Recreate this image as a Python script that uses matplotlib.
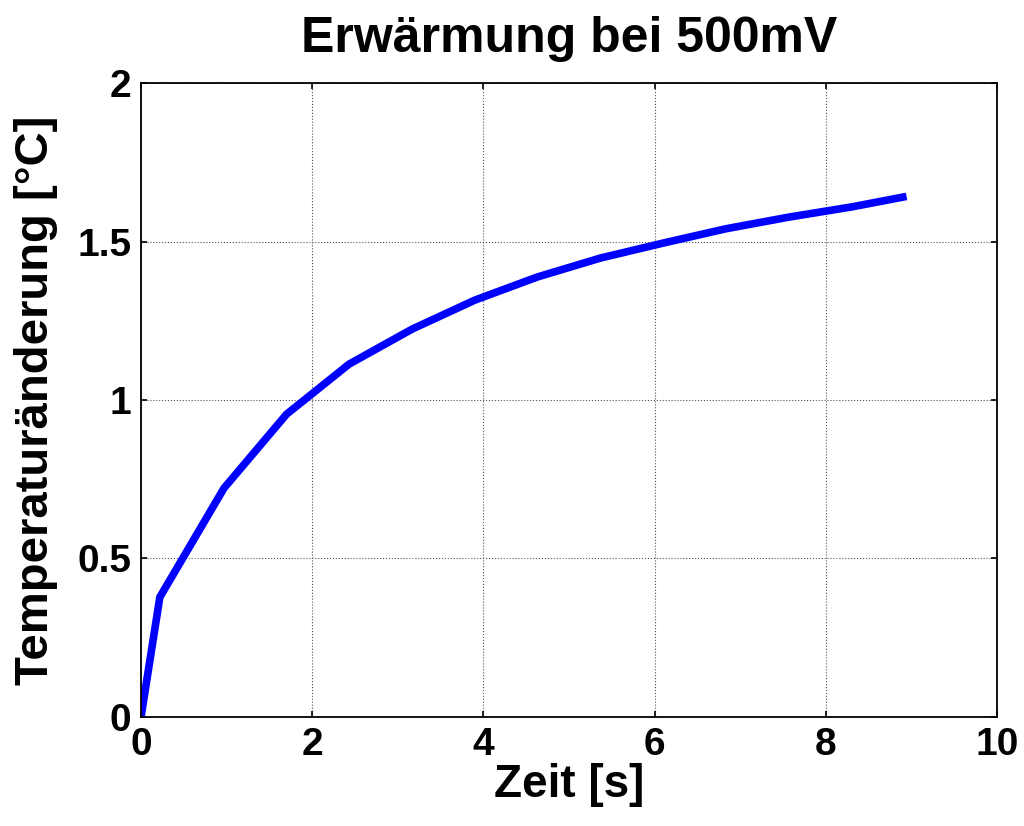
import numpy as np
import matplotlib.pyplot as plt

# Temperature rise at 500 mV
zeit = [0, 0.22, 0.97, 1.70, 2.43, 3.17, 3.90, 4.63, 5.37, 6.10, 6.83, 7.57, 8.30, 8.90]
delta_t = [0, 0.378, 0.722, 0.955, 1.113, 1.224, 1.315, 1.388, 1.448, 1.495, 1.540, 1.577, 1.609, 1.640]

xticks = [0, 2, 4, 6, 8, 10]
yticks = [0, 0.5, 1, 1.5, 2]
ytick_labels = ["0", "0.5", "1", "1.5", "2"]

plt.rcParams['font.family'] = ['Liberation Sans', 'DejaVu Sans']
plt.rcParams['font.weight'] = 'bold'

fig = plt.figure(figsize=(10.24, 8.26), dpi=100)
ax = fig.add_axes([0.1377, 0.132, 0.8359, 0.7675])

ax.plot(zeit, delta_t, color='#0000ff', linewidth=5.5, solid_joinstyle='miter')

ax.set_xlim(0, 10)
ax.set_ylim(0, 2)
ax.set_xticks(xticks)
ax.set_yticks(yticks)
ax.set_yticklabels(ytick_labels)

ax.grid(True, color='#555555', linestyle=':', linewidth=0.8)
ax.tick_params(direction='in', length=4, width=1.2, top=True, right=True,
               labelsize=28, pad=7)
for lab in ax.get_xticklabels() + ax.get_yticklabels():
    lab.set_fontweight('bold')
for s in ax.spines.values():
    s.set_linewidth(1.3)

ax.set_title("Erwärmung bei 500mV", fontsize=36, fontweight='bold', pad=22)
ax.set_xlabel("Zeit [s]", fontsize=33, fontweight='bold', labelpad=0)
ax.set_ylabel("Temperaturänderung [°C]", fontsize=34, fontweight='bold', labelpad=14)

fig.savefig("out.png", dpi=100)
